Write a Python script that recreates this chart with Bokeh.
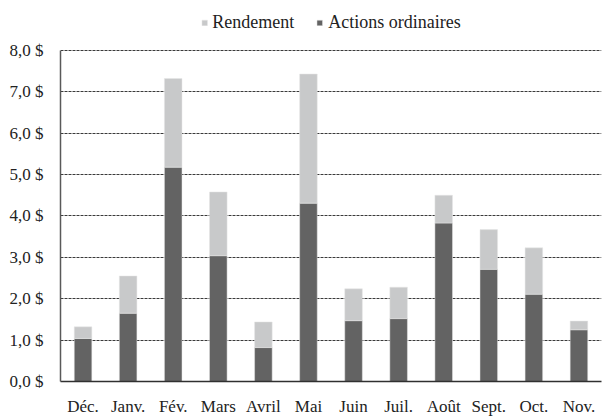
from bokeh.plotting import figure
from bokeh.models import ColumnDataSource, FactorRange, Range1d, Legend, LegendItem, FixedTicker
from bokeh.embed import file_html
from bokeh.resources import INLINE

mois = ["Déc.", "Janv.", "Fév.", "Mars", "Avril", "Mai", "Juin", "Juil.", "Août", "Sept.", "Oct.", "Nov."]
actions = [1.04, 1.65, 5.18, 3.04, 0.82, 4.31, 1.47, 1.52, 3.83, 2.71, 2.11, 1.25]
rendement = [0.28, 0.90, 2.14, 1.54, 0.62, 3.12, 0.77, 0.76, 0.67, 0.96, 1.12, 0.21]
yticks = [0, 1, 2, 3, 4, 5, 6, 7, 8]
ylabels = ["0,0 $", "1,0 $", "2,0 $", "3,0 $", "4,0 $", "5,0 $", "6,0 $", "7,0 $", "8,0 $"]

DARK = "#636363"
LIGHT = "#c8c9ca"
FONT = "Liberation Serif"

source = ColumnDataSource(dict(mois=mois, actions=actions, rendement=rendement))

# frame extends above 8,0 $ to leave room for the legend; the axis line stops at 8
p = figure(x_range=FactorRange(factors=mois, range_padding=0), y_range=Range1d(0, 9.11),
           width=604, height=418, output_backend="svg", toolbar_location=None,
           min_border_left=60, min_border_right=3, min_border_top=4, min_border_bottom=32)

r = p.vbar_stack(["actions", "rendement"], x="mois", width=0.39, color=[DARK, LIGHT],
                 line_color="#e6e6e6", line_width=0.5, source=source)

p.outline_line_color = None
p.xgrid.grid_line_color = None
p.ygrid.grid_line_color = "#3a3a3a"
p.ygrid.grid_line_dash = "3 1"
p.ygrid.grid_line_width = 1

p.yaxis.ticker = FixedTicker(ticks=yticks)
p.yaxis.bounds = (0, 8)
p.yaxis.major_label_overrides = {t: l for t, l in zip(yticks, ylabels)}
p.yaxis.major_tick_line_color = None
p.yaxis.minor_tick_line_color = None
p.yaxis.axis_line_color = "#595959"
p.yaxis.axis_line_width = 1.5
p.yaxis.major_label_standoff = 11

p.xaxis.major_tick_line_color = None
p.xaxis.axis_line_color = "#303030"
p.xaxis.axis_line_width = 1.5
p.xaxis.major_label_standoff = 9

for ax in (p.xaxis, p.yaxis):
    ax.major_label_text_font = FONT
    ax.major_label_text_font_size = "17px"
    ax.major_label_text_color = "#222222"

legend = Legend(items=[LegendItem(label="Rendement", renderers=[r[1]]),
                       LegendItem(label="Actions ordinaires", renderers=[r[0]])],
                orientation="horizontal", location="top_center",
                padding=0, margin=8, spacing=22, label_standoff=5,
                glyph_width=7, glyph_height=7, label_height=20,
                label_text_font=FONT, label_text_font_size="18px", label_text_color="#222222",
                background_fill_alpha=0, border_line_color=None)
p.add_layout(legend, "center")

open("out.html", "w").write(file_html(p, INLINE))
